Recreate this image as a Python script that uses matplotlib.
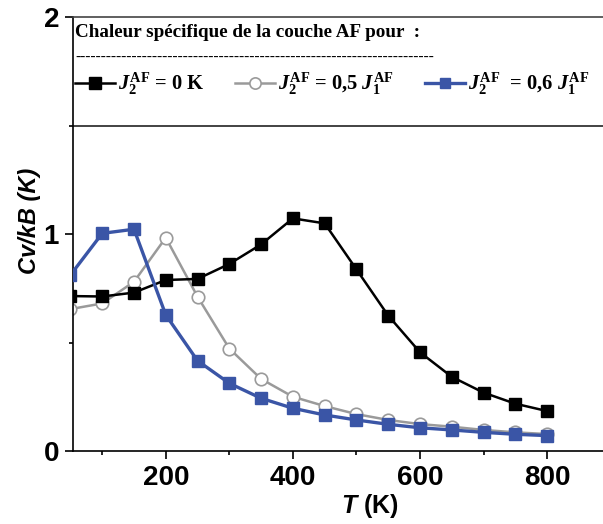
import numpy as np
import matplotlib
matplotlib.use('Agg')
import matplotlib.pyplot as plt
from matplotlib.ticker import MultipleLocator

# Data
temps = [50, 100, 150, 200, 250, 300, 350, 400, 450, 500, 550, 600, 650, 700, 750, 800]
cv_j2_0 = [0.714, 0.712, 0.73, 0.788, 0.793, 0.862, 0.952, 1.072, 1.049, 0.837,
           0.624, 0.455, 0.342, 0.269, 0.218, 0.184]
cv_j2_05 = [0.654, 0.680, 0.780, 0.983, 0.711, 0.472, 0.332, 0.250, 0.207, 0.170,
            0.143, 0.124, 0.112, 0.097, 0.086, 0.078]
cv_j2_06 = [0.811, 1.003, 1.022, 0.627, 0.416, 0.312, 0.243, 0.197, 0.166, 0.143,
            0.123, 0.107, 0.097, 0.086, 0.077, 0.071]

labels = [r'$J_2^{\mathrm{AF}}$ = 0 K',
          r'$J_2^{\mathrm{AF}}$ = 0,5 $J_1^{\mathrm{AF}}$',
          r'$J_2^{\mathrm{AF}}$  = 0,6 $J_1^{\mathrm{AF}}$']
legend_title = 'Chaleur spécifique de la couche AF pour  :'

plt.rcParams['mathtext.fontset'] = 'custom'
plt.rcParams['mathtext.rm'] = 'Liberation Serif:bold'
plt.rcParams['mathtext.it'] = 'Liberation Serif:italic:bold'
plt.rcParams['mathtext.bf'] = 'Liberation Serif:bold'
plt.rcParams['mathtext.bfit'] = 'Liberation Sans:italic:bold'

fig = plt.figure(figsize=(6.03, 5.24), dpi=100)
ax = fig.add_axes([73/603, 73/524, 530/603, 434/524])

blue = '#3a55a6'
gray = '#9a9a9a'

l1, = ax.plot(temps, cv_j2_0, '-s', color='black', lw=1.8, ms=9, mfc='black', mec='black', zorder=3)
l2, = ax.plot(temps, cv_j2_05, '-o', color=gray, lw=1.8, ms=9, mfc='white', mec=gray, mew=1.2, zorder=2)
l3, = ax.plot(temps, cv_j2_06, '-s', color=blue, lw=2.4, ms=8.5, mfc=blue, mec=blue, zorder=4)

ax.set_xlim(54, 888)
ax.set_ylim(0, 2)
ax.xaxis.set_major_locator(MultipleLocator(200))
ax.xaxis.set_minor_locator(MultipleLocator(100))
ax.yaxis.set_major_locator(MultipleLocator(1))
ax.yaxis.set_minor_locator(MultipleLocator(0.5))

ax.tick_params(which='major', direction='out', length=6, width=1.2, pad=4)
ax.tick_params(which='minor', direction='out', length=3, width=1.2)
for lab in ax.get_xticklabels() + ax.get_yticklabels():
    lab.set_fontfamily('Liberation Sans')
    lab.set_fontweight('bold')
    lab.set_fontsize(20)

ax.spines['right'].set_visible(False)
ax.spines['top'].set_color('#444444')
for s in ['left', 'bottom', 'top']:
    ax.spines[s].set_linewidth(1.2)

# legend box bottom edge
ax.axhline(1.5, color='#222222', lw=1.2)

ax.set_ylabel('Cv/kB (K)', fontfamily='Liberation Sans', fontsize=17,
              fontstyle='italic', fontweight='bold')
ax.yaxis.set_label_coords(-0.06, 0.53)
ax.set_xlabel(r'$\mathbfit{T}$ (K)', fontfamily='Liberation Sans', fontsize=18, fontweight='bold')
ax.xaxis.set_label_coords(0.56, -0.095)

ax.text(0.004, 0.965, legend_title, transform=ax.transAxes, fontfamily='Liberation Serif',
        fontweight='bold', fontsize=13.8, va='center', ha='left')
ax.text(0.004, 0.906, '-' * 70, transform=ax.transAxes, fontfamily='Liberation Serif',
        fontsize=11, va='center', ha='left')

leg = ax.legend([l1, l2, l3], labels, ncol=3, loc='center left', bbox_to_anchor=(-0.032, 0.846),
                frameon=False, handlelength=1.95, handletextpad=0.15, columnspacing=1.5,
                markerscale=0.9,
                prop={'family': 'Liberation Serif', 'weight': 'bold', 'size': 14.8})

fig.savefig('out.png', dpi=100)
